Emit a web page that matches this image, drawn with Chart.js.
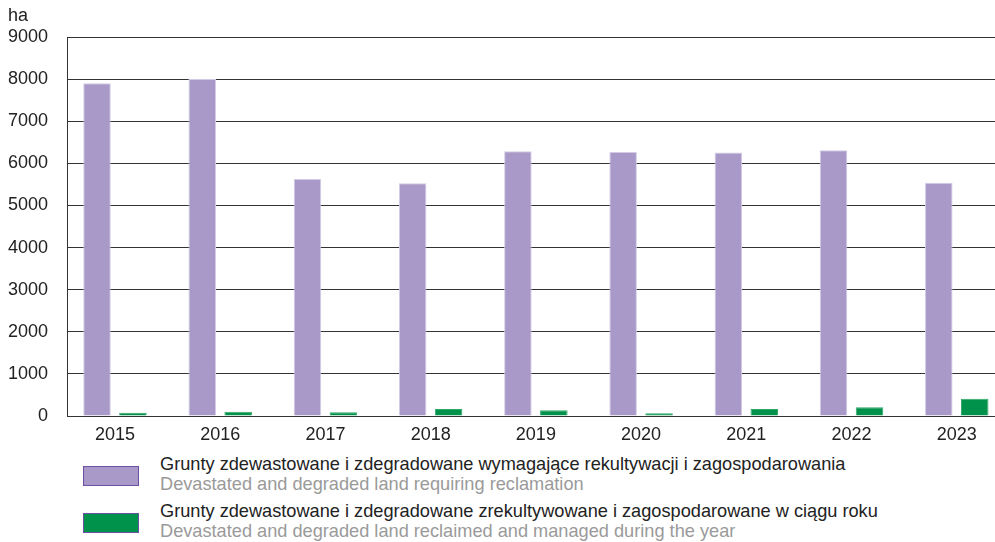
<!DOCTYPE html>
<html>
<head>
<meta charset="utf-8">
<script src="https://cdn.jsdelivr.net/npm/chart.js@4"></script>
<style>
html,body{margin:0;padding:0;background:#fff;overflow:hidden;width:995px;height:542px;}
body{position:relative;font-family:"Liberation Sans",Arial,sans-serif;}
#wrap{position:absolute;left:0;top:0;width:1016px;height:452px;}
#unit{position:absolute;left:8px;top:6px;font-size:18px;line-height:18px;color:#222;}
.lg{position:absolute;left:83px;width:54px;height:18px;border:1px solid #6B4FA0;}
.pl{position:absolute;left:160px;font-size:18.2px;line-height:18px;color:#222;white-space:nowrap;}
.en{position:absolute;left:160px;font-size:18.2px;line-height:18px;color:#9a9a9a;white-space:nowrap;}
</style>
</head>
<body>
<div id="wrap"><canvas id="c"></canvas></div>
<div id="unit">ha</div>
<div class="lg" style="top:466px;background:#A899C8;"></div>
<div class="pl" style="top:455px;">Grunty zdewastowane i zdegradowane wymagające rekultywacji i zagospodarowania</div>
<div class="en" style="top:475px;">Devastated and degraded land requiring reclamation</div>
<div class="lg" style="top:513px;background:#00924A;"></div>
<div class="pl" style="top:502px;">Grunty zdewastowane i zdegradowane zrekultywowane i zagospodarowane w ciągu roku</div>
<div class="en" style="top:522px;">Devastated and degraded land reclaimed and managed during the year</div>
<script>
const years = ["2015","2016","2017","2018","2019","2020","2021","2022","2023"];
const requiringReclamation = [7900, 8000, 5630, 5530, 6285, 6270, 6260, 6310, 5540];
const reclaimedDuringYear = [80, 100, 90, 165, 135, 65, 165, 205, 410];
const yTicks = [0,1000,2000,3000,4000,5000,6000,7000,8000,9000];

const toPoints = (arr) => arr.map((v, i) => ({x: i, y: v}));

new Chart(document.getElementById('c'), {
  type: 'bar',
  data: {
    datasets: [
      {label: 'Grunty zdewastowane i zdegradowane wymagające rekultywacji i zagospodarowania', data: toPoints(requiringReclamation), backgroundColor: '#A899C8', borderColor: '#D3CBE6', borderWidth: 1},
      {label: 'Grunty zdewastowane i zdegradowane zrekultywowane i zagospodarowane w ciągu roku', data: toPoints(reclaimedDuringYear), backgroundColor: '#00924A', borderColor: '#2FA866', borderWidth: 1}
    ]
  },
  options: {
    responsive: true,
    maintainAspectRatio: false,
    animation: false,
    devicePixelRatio: 1,
    layout: {padding: {top: 37, right: 2, left: 0, bottom: 0}},
    datasets: {bar: {categoryPercentage: 0.683, barPercentage: 0.766}},
    plugins: {legend: {display: false}, tooltip: {enabled: false}},
    scales: {
      x: {
        type: 'linear',
        offset: false,
        min: -0.456, max: 8.544,
        afterBuildTicks: (s) => { s.ticks = years.map((y, i) => ({value: i})); },
        afterFit: (s) => { s.height = 36; },
        grid: {display: false, drawTicks: false, offset: false},
        border: {display: true, color: '#333', width: 1},
        ticks: {color: '#222', font: {family: 'Liberation Sans', size: 18}, padding: 8, maxRotation: 0,
                callback: (v) => years[Math.round(v)]}
      },
      y: {
        min: 0, max: 9000,
        afterBuildTicks: (s) => { s.ticks = yTicks.map(v => ({value: v})); },
        afterFit: (s) => { s.width = 67; },
        grid: {color: '#333', lineWidth: 1, drawTicks: false},
        border: {display: true, color: '#333', width: 1},
        ticks: {color: '#222', font: {family: 'Liberation Sans', size: 18}, padding: 19,
                callback: (v) => String(v)}
      }
    }
  }
});
</script>
</body>
</html>
